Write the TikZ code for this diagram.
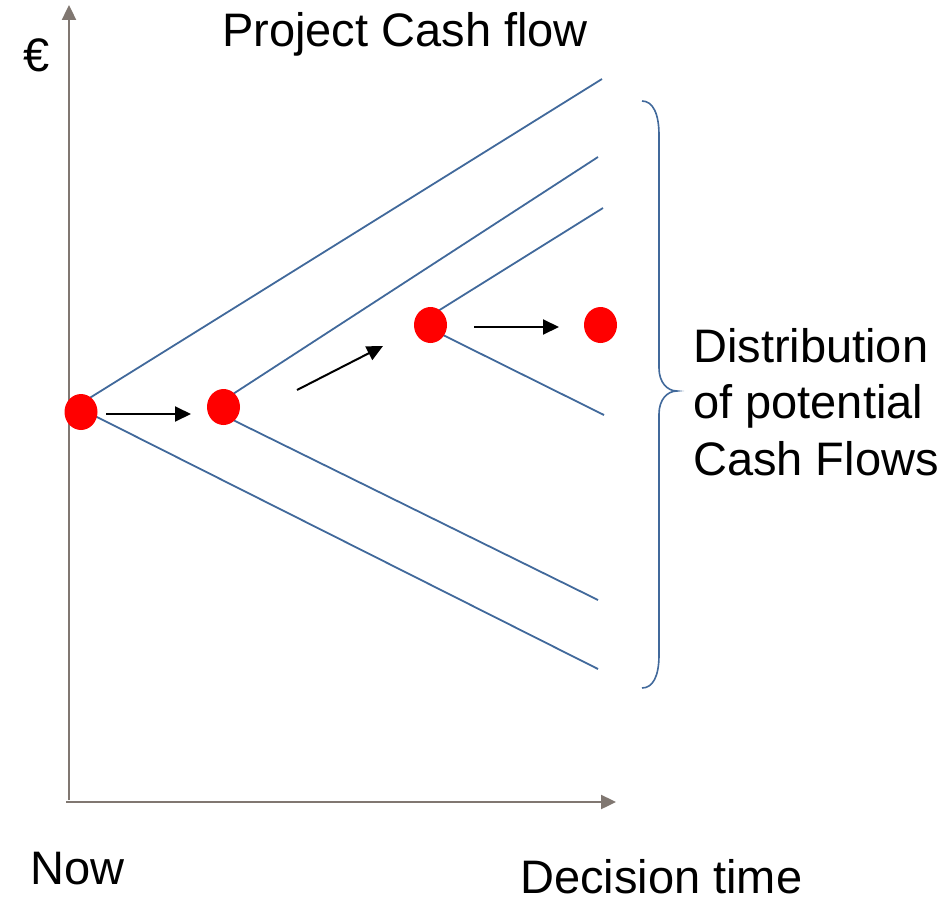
\documentclass[tikz,border=0pt]{standalone}
\usepackage{fontspec}
\setmainfont{Liberation Sans}
\usetikzlibrary{arrows.meta}
\definecolor{cfblue}{RGB}{65,105,155}
\definecolor{axisgray}{RGB}{128,119,113}
\definecolor{dotred}{RGB}{255,0,0}
\tikzset{
  cfline/.style={draw=cfblue, line width=1.8pt},
  axisline/.style={draw=axisgray, line width=2.4pt, -{Triangle[length=15pt,width=14pt]}},
  steparrow/.style={draw=black, line width=2pt, -{Triangle[length=16pt,width=15pt]}},
  cfdot/.style={ellipse, fill=dotred, minimum width=33pt, minimum height=36pt, inner sep=0pt},
  lbl/.style={font=\fontsize{47pt}{56pt}\selectfont, inner sep=0pt, anchor=base west},
}
\usetikzlibrary{shapes.geometric}
\begin{document}
\begin{tikzpicture}[x=1pt,y=-1pt]
\useasboundingbox (0,0) rectangle (943,907);
% axes
\coordinate (yb) at (69,800);
\coordinate (yt) at (69,5);
\coordinate (xl) at (66,802);
\coordinate (xr) at (616,802);
\draw[axisline] (yb) -- (yt);
\draw[axisline] (xl) -- (xr);
% cash flow lines
\coordinate (a0) at (88,399);  \coordinate (a1) at (602,79);
\coordinate (b0) at (95,416);  \coordinate (b1) at (598,669);
\coordinate (c0) at (233,394); \coordinate (c1) at (598,157);
\coordinate (d0) at (233,420); \coordinate (d1) at (598,600);
\coordinate (e0) at (438,311); \coordinate (e1) at (603,208);
\coordinate (f0) at (443,335); \coordinate (f1) at (604,415);
\draw[cfline] (a0) -- (a1);
\draw[cfline] (b0) -- (b1);
\draw[cfline] (c0) -- (c1);
\draw[cfline] (d0) -- (d1);
\draw[cfline] (e0) -- (e1);
\draw[cfline] (f0) -- (f1);
% dots
\node[cfdot] (p1) at (81,412) {};
\node[cfdot] (p2) at (223.5,407) {};
\node[cfdot] (p3) at (430.5,325) {};
\node[cfdot] (p4) at (600.5,325) {};
% step arrows
\coordinate (s1a) at (106,414); \coordinate (s1b) at (191,414);
\coordinate (s2a) at (297,390); \coordinate (s2b) at (383,346);
\coordinate (s3a) at (474,327); \coordinate (s3b) at (559,327);
\draw[steparrow] (s1a) -- (s1b);
\draw[steparrow] (s2a) -- (s2b);
\draw[steparrow] (s3a) -- (s3b);
% brace
\coordinate (br0) at (642,101);
\coordinate (brt) at (677,391);
\coordinate (br1) at (642,688);
\draw[cfline, line width=1.6pt] (br0) .. controls (653,101) and (659,114) .. (659,135)
  -- (659,368) .. controls (659,382) and (667,391) .. (brt)
  .. controls (667,391) and (659,400) .. (659,414)
  -- (659,655) .. controls (659,676) and (653,688) .. (br1);
% labels
\node[lbl] (euro) at (23,72) {€};
\node[lbl] (title) at (222,47) {Project Cash flow};
\node[lbl] (d1l) at (693,362) {Distribution};
\node[lbl] (d2l) at (693,418) {of potential};
\node[lbl] (d3l) at (693,475) {Cash Flows};
\node[lbl] (now) at (30,884) {Now};
\node[lbl] (dec) at (520,893) {Decision time};
\end{tikzpicture}
\end{document}
